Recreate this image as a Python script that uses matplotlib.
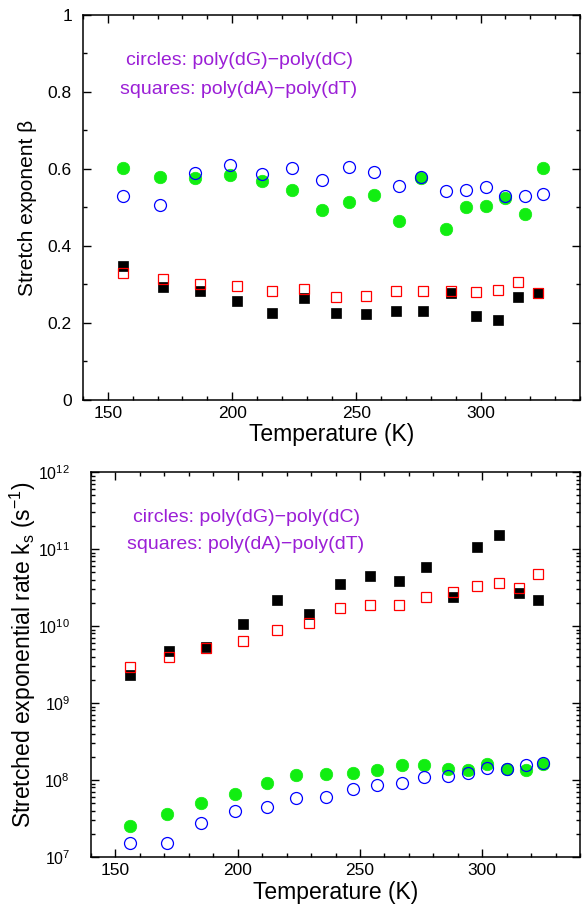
import matplotlib
matplotlib.use("Agg")
import matplotlib.pyplot as plt
from matplotlib.ticker import MultipleLocator, LogLocator, NullFormatter

plt.rcParams['font.family'] = ['Liberation Sans', 'DejaVu Sans']
plt.rcParams['mathtext.fontset'] = 'custom'
plt.rcParams['mathtext.rm'] = 'Liberation Sans'
plt.rcParams['mathtext.it'] = 'Liberation Sans:italic'

# temperatures (K)
T_circ = [156, 171, 185, 199, 212, 224, 236, 247, 257, 267, 276, 286, 294, 302, 310, 318, 325]
T_sq = [156, 172, 187, 202, 216, 229, 242, 254, 266, 277, 288, 298, 307, 315, 323]

# stretch exponent beta
beta_gc_fill = [0.603, 0.580, 0.577, 0.584, 0.569, 0.545, 0.494, 0.513, 0.532, 0.466,
                0.576, 0.444, 0.502, 0.504, 0.524, 0.483, 0.603]
beta_gc_open = [0.530, 0.506, 0.590, 0.611, 0.586, 0.603, 0.572, 0.604, 0.592, 0.556,
                0.580, 0.543, 0.546, 0.553, 0.530, 0.531, 0.535]
beta_at_fill = [0.349, 0.293, 0.284, 0.257, 0.226, 0.266, 0.226, 0.223, 0.232, 0.231,
                0.277, 0.218, 0.208, 0.268, 0.279]
beta_at_open = [0.331, 0.314, 0.300, 0.296, 0.284, 0.288, 0.267, 0.271, 0.284, 0.282,
                0.284, 0.281, 0.285, 0.306, 0.279]

# stretched exponential rate k_s (1/s)
ks_gc_fill = [2.5e7, 3.6e7, 5.1e7, 6.6e7, 9.2e7, 1.15e8, 1.2e8, 1.23e8, 1.35e8, 1.57e8,
              1.58e8, 1.38e8, 1.33e8, 1.62e8, 1.41e8, 1.35e8, 1.62e8]
ks_gc_open = [1.5e7, 1.5e7, 2.8e7, 3.9e7, 4.4e7, 5.8e7, 6.0e7, 7.7e7, 8.6e7, 9.1e7,
              1.08e8, 1.12e8, 1.22e8, 1.42e8, 1.40e8, 1.55e8, 1.64e8]
ks_at_fill = [2.3e9, 4.8e9, 5.3e9, 1.07e10, 2.2e10, 1.42e10, 3.5e10, 4.5e10, 3.8e10, 5.8e10,
              2.4e10, 1.07e11, 1.5e11, 2.7e10, 2.2e10]
ks_at_open = [2.9e9, 4.0e9, 5.2e9, 6.4e9, 9.0e9, 1.1e10, 1.7e10, 1.9e10, 1.85e10, 2.4e10,
              2.8e10, 3.3e10, 3.6e10, 3.1e10, 4.7e10]

green = '#11ee11'
purple = '#9b1fd6'

fig = plt.figure(figsize=(5.85, 9.09), dpi=100)
ax1 = fig.add_axes([0.1419, 0.5600, 0.8496, 0.4235])
ax2 = fig.add_axes([0.1556, 0.0572, 0.8359, 0.4235])


def draw(ax, gf, go, af, ao):
    ax.plot(T_circ, gf, 'o', ms=9, color=green, mec=green, mew=0.5)
    ax.plot(T_circ, go, 'o', ms=8.6, mfc='none', mec='#0000ff', mew=0.9)
    ax.plot(T_sq, af, 's', ms=7.6, color='black', mec='black', mew=0.5)
    ax.plot(T_sq, ao, 's', ms=7.2, mfc='none', mec='#ff0000', mew=0.9)


draw(ax1, beta_gc_fill, beta_gc_open, beta_at_fill, beta_at_open)
draw(ax2, ks_gc_fill, ks_gc_open, ks_at_fill, ks_at_open)

for ax in (ax1, ax2):
    ax.set_xlim(140, 340)
    ax.xaxis.set_major_locator(MultipleLocator(50))
    ax.xaxis.set_minor_locator(MultipleLocator(10))
    ax.tick_params(which='both', direction='in', top=True, right=True, width=1)
    ax.tick_params(which='major', length=6)
    ax.tick_params(which='minor', length=3)
    ax.tick_params(axis='x', pad=4, labelsize=12.5)
    for s in ax.spines.values():
        s.set_linewidth(1.1)
    ax.set_xlabel("Temperature (K)", fontsize=16.5)
    ax.xaxis.label.set_va('center')

ax1.set_ylim(0, 1)
ax1.yaxis.set_major_locator(MultipleLocator(0.2))
ax1.yaxis.set_minor_locator(MultipleLocator(0.1))
ax1.yaxis.set_major_formatter(matplotlib.ticker.FuncFormatter(lambda v, p: f"{v:g}"))
ax1.tick_params(axis='y', pad=8, labelsize=12.5)
ax1.set_ylabel("Stretch exponent β", fontsize=15)
ax1.yaxis.set_label_coords(-0.1107, 0.5)
ax1.xaxis.set_label_coords(0.5, -0.091)

ax2.set_yscale('log')
ax2.set_ylim(1e7, 1e12)
ax2.yaxis.set_major_locator(LogLocator(base=10, numticks=10))
ax2.yaxis.set_minor_locator(LogLocator(base=10, subs=range(2, 10), numticks=20))
ax2.yaxis.set_minor_formatter(NullFormatter())
ax2.tick_params(axis='y', pad=15, labelsize=11.5)
ax2.set_ylabel(r"Stretched exponential rate k$_\mathregular{s}$ (s$^\mathregular{-1}$)", fontsize=16.5)
ax2.yaxis.set_label_coords(-0.139, 0.525)
ax2.xaxis.set_label_coords(0.5, -0.091)

for ax in (ax1, ax2):
    ax.yaxis.label.set_ha('center')
    ax.yaxis.label.set_va('center')

ax1.text(0.0865, 0.881, "circles: poly(dG)\u2212poly(dC)", transform=ax1.transAxes,
         color=purple, fontsize=14, va='center', ha='left')
ax1.text(0.0744, 0.807, "squares: poly(dA)\u2212poly(dT)", transform=ax1.transAxes,
         color=purple, fontsize=14, va='center', ha='left')
ax2.text(0.0859, 0.883, "circles: poly(dG)\u2212poly(dC)", transform=ax2.transAxes,
         color=purple, fontsize=14, va='center', ha='left')
ax2.text(0.0736, 0.813, "squares: poly(dA)\u2212poly(dT)", transform=ax2.transAxes,
         color=purple, fontsize=14, va='center', ha='left')

fig.savefig("out.png", dpi=100)
